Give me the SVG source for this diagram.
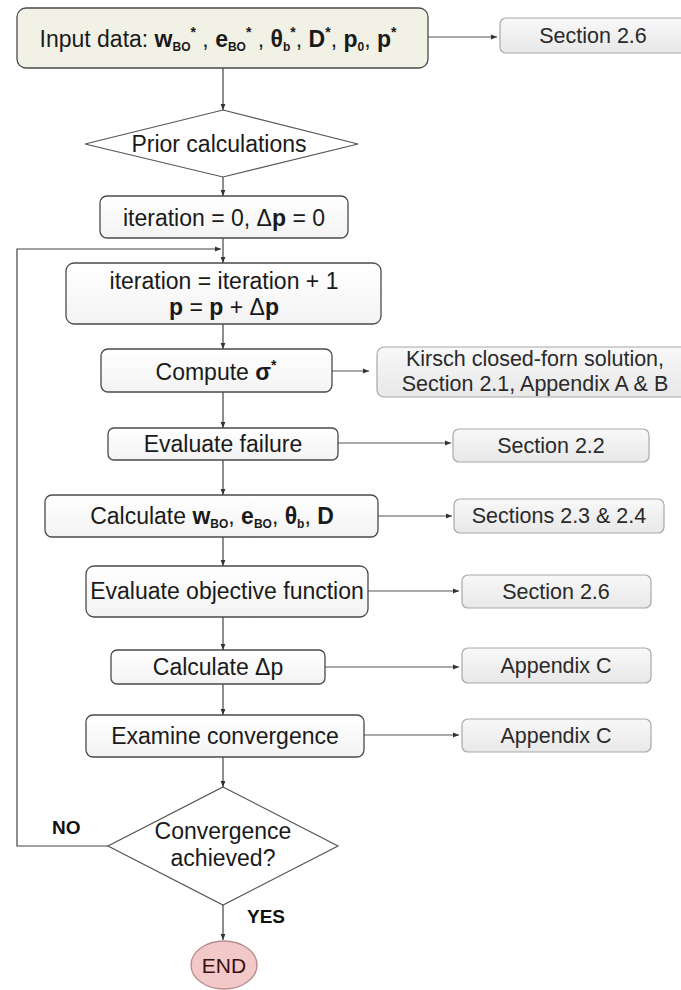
<svg xmlns="http://www.w3.org/2000/svg" width="681" height="990" viewBox="0 0 681 990">
<style>
.t{font-family:"Liberation Sans",Arial,Helvetica,sans-serif;font-size:23px;fill:#1a1a1a;text-anchor:middle}
.r{font-family:"Liberation Sans",Arial,Helvetica,sans-serif;font-size:21.5px;fill:#2a2a2a;text-anchor:middle}
.b{font-weight:bold}
.sub{font-size:12px;font-weight:bold}
.sup{font-size:14px;font-weight:bold}
.main{fill:url(#gMain);stroke:#4a4a4a;stroke-width:1.3}
.side{fill:url(#gSide);stroke:#a8a8a8;stroke-width:1.2}
.dia{fill:#ffffff;stroke:#555;stroke-width:1.2}
.c{fill:none;stroke:#444;stroke-width:1.2}
.cs{fill:none;stroke:#555;stroke-width:1.1}
.lab{font-family:"Liberation Sans",Arial,Helvetica,sans-serif;font-size:19px;font-weight:bold;fill:#111}
</style>
<defs>
<linearGradient id="gMain" x1="0" y1="0" x2="0" y2="1"><stop offset="0" stop-color="#ffffff"/><stop offset="1" stop-color="#f3f3f3"/></linearGradient>
<linearGradient id="gSide" x1="0" y1="0" x2="0" y2="1"><stop offset="0" stop-color="#f8f8f8"/><stop offset="1" stop-color="#e8e8e8"/></linearGradient>
<marker id="ah" viewBox="0 0 10 10" refX="10" refY="5" markerWidth="6" markerHeight="6" orient="auto" markerUnits="userSpaceOnUse"><path d="M0,1 L10,5 L0,9 Z" fill="#333"/></marker>
</defs>

<g id="connectors">
<path class="c" d="M223,68 V110" marker-end="url(#ah)"/>
<path class="cs" d="M428,37 H497" marker-end="url(#ah)"/>
<path class="c" d="M223,177 V196" marker-end="url(#ah)"/>
<path class="c" d="M223,238 V263" marker-end="url(#ah)"/>
<path class="c" d="M108,846 H17 V249 H221" marker-end="url(#ah)"/>
<path class="c" d="M223,324 V349" marker-end="url(#ah)"/>
<path class="cs" d="M332,371 H369" marker-end="url(#ah)"/>
<path class="c" d="M223,392 V428" marker-end="url(#ah)"/>
<path class="cs" d="M338,443 H451" marker-end="url(#ah)"/>
<path class="c" d="M223,460 V495" marker-end="url(#ah)"/>
<path class="cs" d="M378,516 H452" marker-end="url(#ah)"/>
<path class="c" d="M223,537 V566" marker-end="url(#ah)"/>
<path class="cs" d="M368,591 H459" marker-end="url(#ah)"/>
<path class="c" d="M223,617 V650" marker-end="url(#ah)"/>
<path class="cs" d="M325,667 H459" marker-end="url(#ah)"/>
<path class="c" d="M223,684 V715" marker-end="url(#ah)"/>
<path class="cs" d="M364,735 H459" marker-end="url(#ah)"/>
<path class="c" d="M223,757 V787" marker-end="url(#ah)"/>
<path class="c" d="M223,905 V940" marker-end="url(#ah)"/>
<text class="lab" x="52" y="834">NO</text>
<text class="lab" x="247" y="923">YES</text>
</g>

<g id="input">
<rect x="17" y="8" width="411" height="60" rx="9" fill="#f1f1e6" stroke="#4a4a4a" stroke-width="1.3"/>
<text class="t" x="218" y="47">Input data: <tspan class="b">w</tspan><tspan class="sub" dy="4">BO</tspan><tspan class="sup" dy="-14">*</tspan><tspan dy="10"> , </tspan><tspan class="b">e</tspan><tspan class="sub" dy="4">BO</tspan><tspan class="sup" dy="-14">*</tspan><tspan dy="10"> , </tspan><tspan class="b">θ</tspan><tspan class="sub" dy="4">b</tspan><tspan class="sup" dy="-14">*</tspan><tspan dy="10">, </tspan><tspan class="b">D</tspan><tspan class="sup" dy="-10">*</tspan><tspan dy="10">, </tspan><tspan class="b">p</tspan><tspan class="sub" dy="4">0</tspan><tspan dy="-4">, </tspan><tspan class="b">p</tspan><tspan class="sup" dy="-10">*</tspan></text>
</g>
<g id="ref-input">
<rect class="side" x="500" y="18" width="200" height="35" rx="6"/>
<text class="r" x="593" y="43">Section 2.6</text>
</g>

<g id="prior">
<polygon class="dia" points="223,110 358,144 223,177 85,144"/>
<text class="t" x="219" y="152">Prior calculations</text>
</g>

<g id="init">
<rect class="main" x="100" y="196" width="248" height="42" rx="7"/>
<text class="t" x="224" y="226">iteration = 0, Δ<tspan class="b">p</tspan> = 0</text>
</g>

<g id="iterate">
<rect class="main" x="66" y="263" width="315" height="61" rx="8"/>
<text class="t" x="224" y="289">iteration = iteration + 1</text>
<text class="t" x="224" y="315"><tspan class="b">p</tspan> = <tspan class="b">p</tspan> + Δ<tspan class="b">p</tspan></text>
</g>

<g id="compute">
<rect class="main" x="101" y="349" width="231" height="43" rx="7"/>
<text class="t" x="216" y="380">Compute <tspan class="b">σ</tspan><tspan class="sup" dy="-10">*</tspan></text>
</g>
<g id="ref-kirsch">
<rect class="side" x="377" y="347" width="320" height="50" rx="7"/>
<text class="r" x="535" y="366">Kirsch closed-forn solution,</text>
<text class="r" x="535" y="391">Section 2.1, Appendix A &amp; B</text>
</g>

<g id="failure">
<rect class="main" x="108" y="428" width="230" height="32" rx="6"/>
<text class="t" x="223" y="452">Evaluate failure</text>
</g>
<g id="ref-failure">
<rect class="side" x="453" y="429" width="196" height="33" rx="6"/>
<text class="r" x="551" y="453">Section 2.2</text>
</g>

<g id="calculate">
<rect class="main" x="45" y="495" width="333" height="42" rx="7"/>
<text class="t" x="212" y="524">Calculate <tspan class="b">w</tspan><tspan class="sub" dy="4">BO</tspan><tspan dy="-4">, </tspan><tspan class="b">e</tspan><tspan class="sub" dy="4">BO</tspan><tspan dy="-4">, </tspan><tspan class="b">θ</tspan><tspan class="sub" dy="4">b</tspan><tspan dy="-4">, </tspan><tspan class="b">D</tspan></text>
</g>
<g id="ref-calculate">
<rect class="side" x="454" y="499" width="210" height="34" rx="6"/>
<text class="r" x="559" y="523">Sections 2.3 &amp; 2.4</text>
</g>

<g id="objective">
<rect class="main" x="86" y="566" width="282" height="51" rx="8"/>
<text class="t" x="227" y="599">Evaluate objective function</text>
</g>
<g id="ref-objective">
<rect class="side" x="462" y="575" width="189" height="33" rx="6"/>
<text class="r" x="556" y="599">Section 2.6</text>
</g>

<g id="deltap">
<rect class="main" x="111" y="650" width="214" height="34" rx="6"/>
<text class="t" x="218" y="675">Calculate Δp</text>
</g>
<g id="ref-deltap">
<rect class="side" x="462" y="648" width="189" height="35" rx="6"/>
<text class="r" x="556" y="673">Appendix C</text>
</g>

<g id="examine">
<rect class="main" x="86" y="715" width="278" height="42" rx="7"/>
<text class="t" x="225" y="744">Examine convergence</text>
</g>
<g id="ref-examine">
<rect class="side" x="462" y="719" width="189" height="33" rx="6"/>
<text class="r" x="556" y="743">Appendix C</text>
</g>

<g id="converged">
<polygon class="dia" points="223,787 338,846 223,905 108,846"/>
<text class="t" x="223" y="839">Convergence</text>
<text class="t" x="223" y="866">achieved?</text>
</g>

<g id="end">
<ellipse cx="224" cy="965" rx="33" ry="24" fill="#f3c8c8" stroke="#b88c8c" stroke-width="1.3"/>
<text class="t" x="224" y="973" style="font-size:21px;fill:#3a1010">END</text>
</g>
</svg>
